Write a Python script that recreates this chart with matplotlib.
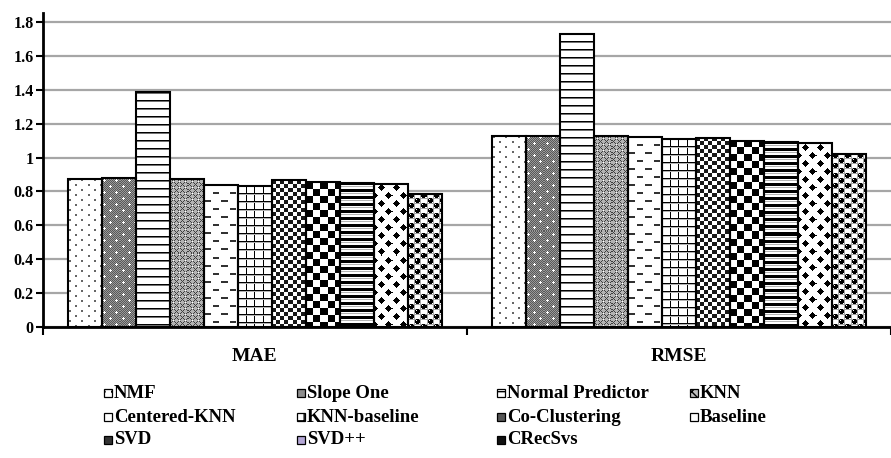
import numpy as np
import matplotlib.pyplot as plt
from matplotlib.patches import Rectangle

# scores per method, one list per error metric
metrics = ['MAE', 'RMSE']
methods = ['NMF', 'Slope One', 'Normal Predictor', 'KNN', 'Centered-KNN',
           'KNN-baseline', 'Co-Clustering', 'Baseline', 'SVD', 'SVD++', 'CRecSvs']
mae = [0.874, 0.878, 1.385, 0.874, 0.840, 0.834, 0.865, 0.854, 0.850, 0.844, 0.785]
rmse = [1.129, 1.129, 1.730, 1.129, 1.123, 1.110, 1.116, 1.100, 1.094, 1.084, 1.023]
y_ticks = [0, 0.2, 0.4, 0.6, 0.8, 1.0, 1.2, 1.4, 1.6, 1.8]

SERIF = 'Liberation Serif'


# ---- fill patterns (darkness: 0 white, 1 black) ----
def lattice(h, w, centers, inside):
    yy, xx = np.mgrid[0:h, 0:w]
    t = np.zeros((h, w))
    for cy, cx in centers:
        dy = np.abs(yy - cy); dy = np.minimum(dy, h - dy)
        dx = np.abs(xx - cx); dx = np.minimum(dx, w - dx)
        t = np.maximum(t, inside(dy, dx))
    return t


def pat_dots():
    t = np.zeros((10, 12))
    t[1:3, 1:3] = 0.6
    t[6:8, 7:9] = 0.6
    return t


def pat_gray_dots():
    yy, xx = np.mgrid[0:12, 0:12]
    t = np.where((yy + xx) % 2 == 0, 0.65, 0.4)
    for cy, cx in [(2, 2), (8, 8)]:
        t[cy, cx - 1:cx + 2] = 0
        t[cy - 1:cy + 2, cx] = 0
    return t


def pat_hlines():
    t = np.zeros((8, 1))
    t[0] = 1
    t[1] = 0.55
    return t


def pat_diag_cross():
    yy, xx = np.mgrid[0:6, 0:6]
    t = np.where(((yy + xx) % 6 == 0) | ((yy - xx) % 6 == 0), 0.75, 0.3)
    t[3, 3] = 0
    return t


def pat_dashes():
    t = np.zeros((16, 16))
    t[0:2, 1:7] = 0.8
    t[8:10, 9:15] = 0.8
    return t


def pat_grid():
    t = np.zeros((8, 8))
    t[0, :] = 1
    t[:, 0] = 1
    t[1, :] = 0.3
    return t


def pat_checker(cell, dark=1.0):
    yy, xx = np.mgrid[0:2 * cell, 0:2 * cell]
    return np.where(((yy // cell) + (xx // cell)) % 2 == 0, dark, 0.0)


def pat_thick_lines():
    t = np.zeros((7, 1))
    t[0:3] = 1
    t[4] = 0.3
    return t


def pat_diamonds():
    return lattice(16, 14, [(4, 7), (12, 0)],
                   lambda dy, dx: ((dy + dx) <= 3.5).astype(float))


def pat_spheres():
    yy, xx = np.mgrid[0:10, 0:12]
    t = np.where((yy % 5 == 0) | (xx % 6 == 0), 0.35, 0.0)
    balls = lattice(10, 12, [(2, 3), (7, 9)],
                    lambda dy, dx: ((dy ** 2 + dx ** 2) <= 6.5).astype(float))
    t = np.maximum(t, balls)
    t[1, 2] = 0
    t[6, 8] = 0
    return t


patterns = [pat_dots(), pat_gray_dots(), pat_hlines(), pat_diag_cross(),
            pat_dashes(), pat_grid(), pat_checker(4, 0.9), pat_checker(7),
            pat_thick_lines(), pat_diamonds(), pat_spheres()]

# small legend swatches: (face, hatch)
swatches = [('white', '..'), ('#8c8c8c', None), ('white', '-'), ('#bfbfbf', 'xx'),
            ('white', None), ('white', '++'), ('#555555', '+'), ('white', None),
            ('#333333', None), ('#b4a7d6', None), ('#111111', None)]

# ---- figure ----
fig = plt.figure(figsize=(8.91, 4.58), dpi=100)
ax = fig.add_axes([42.5 / 891, 1 - 327 / 458, 1 - 42.5 / 891, (327 - 12.5) / 458])

x_lim = (-0.5, -0.5 + (891 - 42.5) / 429.5)
y_lim = (0, 1.856)
ax.set_xlim(*x_lim)
ax.set_ylim(*y_lim)

n = len(methods)
width = 1 / 12.47
x = np.arange(len(metrics))
values = np.array([mae, rmse])

bars = []
for i, name in enumerate(methods):
    b = ax.bar(x + (i - (n - 1) / 2) * width, values[:, i], width,
               facecolor='none', edgecolor='black', linewidth=1.5, zorder=3)
    bars.append(b)

# paint the texture inside each bar at screen resolution
for i, b in enumerate(bars):
    tile = patterns[i]
    th, tw = tile.shape
    for rect in b:
        bb = rect.get_window_extent()
        w_px = max(int(round(bb.width)), 1)
        h_px = max(int(round(bb.height)), 1)
        img = np.tile(tile, (h_px // th + 1, w_px // tw + 1))[:h_px, :w_px]
        x0 = rect.get_x()
        ax.imshow(img, cmap='gray_r', vmin=0, vmax=1, interpolation='nearest',
                  extent=(x0, x0 + rect.get_width(), 0, rect.get_height()),
                  aspect='auto', zorder=2)

ax.set_xlim(*x_lim)
ax.set_ylim(*y_lim)
ax.set_aspect('auto')

# axes styling
ax.set_yticks(y_ticks)
ax.set_yticklabels([f'{v:g}' for v in y_ticks], fontfamily=SERIF,
                   fontweight='bold', fontsize=11.5)
ax.tick_params(axis='y', direction='out', length=5, width=1.5, pad=1.5)
ax.yaxis.grid(True, color='#a6a6a6', linewidth=1.6)
ax.set_axisbelow(True)

ax.set_xticks(x)
ax.set_xticklabels(metrics, fontfamily=SERIF, fontweight='bold', fontsize=14)
ax.tick_params(axis='x', which='major', length=0, pad=15)
ax.set_xticks([-0.5, 0.5, 1.5], minor=True)
ax.tick_params(axis='x', which='minor', direction='out', length=6, width=1.5)

for side in ['top', 'right']:
    ax.spines[side].set_visible(False)
for side in ['left', 'bottom']:
    ax.spines[side].set_linewidth(2)
    ax.spines[side].set_zorder(4)

# legend laid out in four columns
col_px = [104, 297, 497, 690]
row_px = [393, 417, 440]
for i, name in enumerate(methods):
    cx = col_px[i % 4]
    cy = row_px[i // 4]
    face, hatch = swatches[i]
    fig.add_artist(Rectangle(((cx) / 891, 1 - (cy + 4) / 458), 8 / 891, 8 / 458,
                             transform=fig.transFigure, facecolor=face,
                             edgecolor='black', linewidth=0.9, hatch=hatch))
    fig.text((cx + 10) / 891, 1 - cy / 458, name, fontfamily=SERIF,
             fontweight='bold', fontsize=13.5, va='center', ha='left')

fig.savefig('out.png', dpi=100)
